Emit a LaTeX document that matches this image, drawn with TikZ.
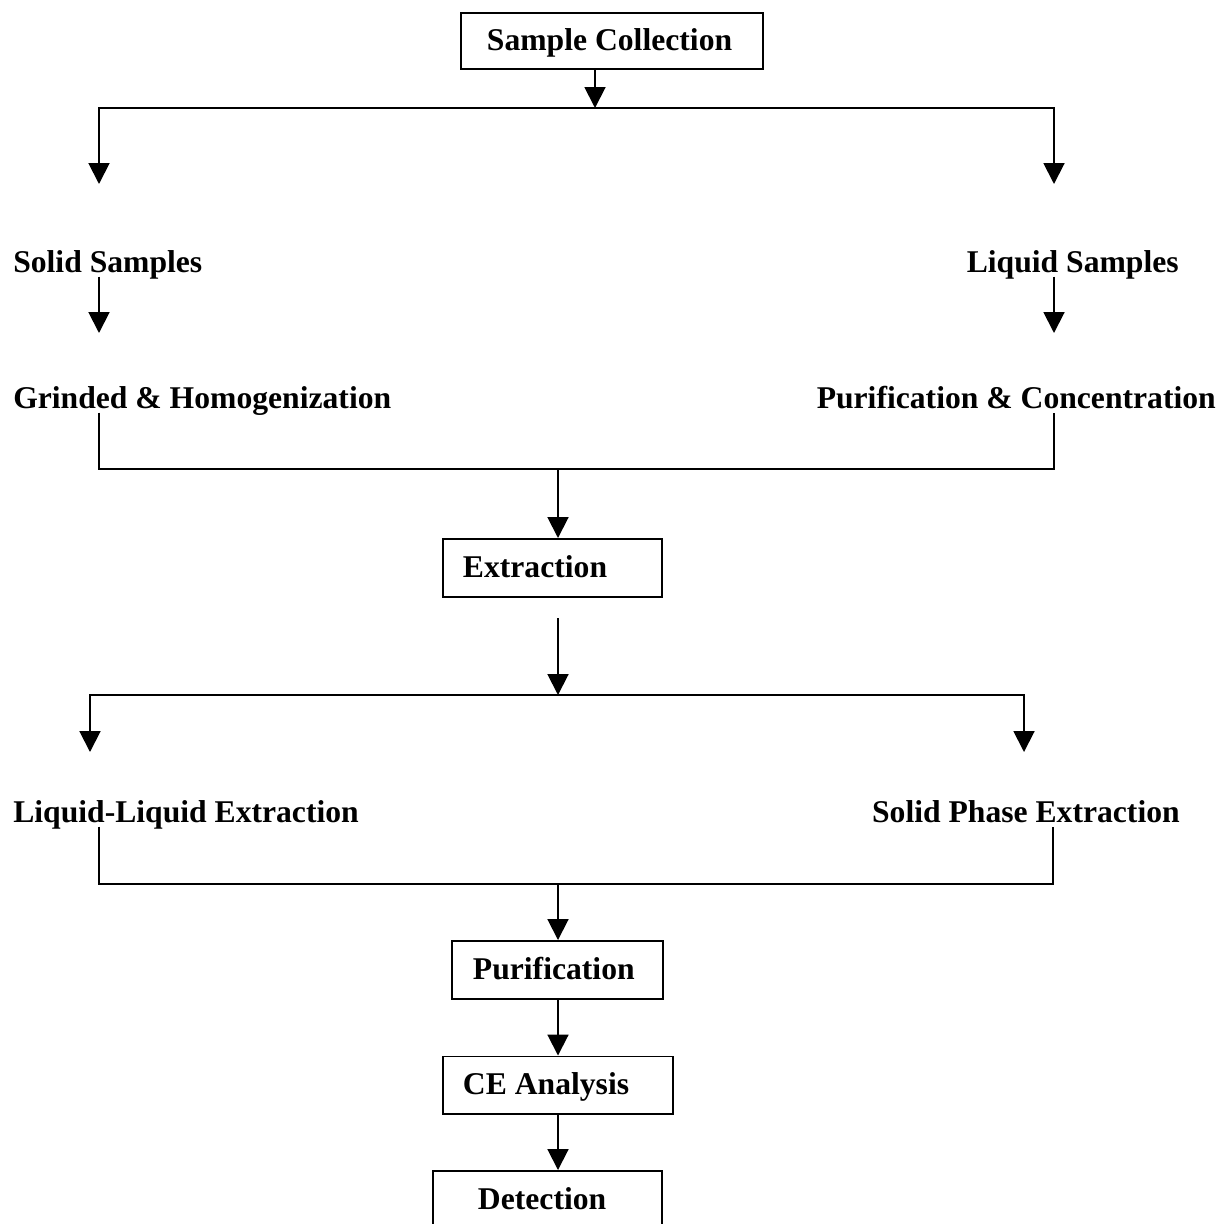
\documentclass[tikz,border=0pt]{standalone}
\usepackage{fontspec}
\setmainfont{Liberation Serif}
\usepackage{tikz}
\usetikzlibrary{arrows.meta}

\begin{document}
\begin{tikzpicture}[
    x=0.025cm, y=-0.025cm,
    every node/.style={font=\fontsize{22.5pt}{27pt}\selectfont\bfseries},
    stepbox/.style={rectangle, draw, line width=1.4pt, inner ysep=0pt, text height=16pt, text depth=2pt, align=left, execute at begin node={\spaceskip=0pt\xspaceskip=0pt\relax}},
    lbl/.style={inner sep=0pt, text depth=3pt},
    arrow/.style={line width=1.4pt, -{Triangle[length=0.52cm, width=0.52cm]}},
    line/.style={line width=1.4pt}
]
\clip (0,0) rectangle (1221,1224);

% Boxes down the middle
\node[stepbox, minimum height=1.4cm, inner xsep=0.65cm, text width=6.25cm] (sample) at (612,41) {Sample Collection};
\node[stepbox, minimum height=1.45cm, inner xsep=0.5cm, text width=4.475cm] (extraction) at (552.5,568) {Extraction};
\node[stepbox, minimum height=1.45cm, inner xsep=0.525cm, text width=4.225cm] (purification) at (557.5,970) {Purification};
\node[stepbox, minimum height=1.425cm, inner xsep=0.5cm, text width=4.75cm] (ce_analysis) at (558,1085) {CE Analysis};
\node[stepbox, minimum height=1.45cm, inner xsep=1.125cm, text width=3.475cm] (detection) at (547.5,1200) {Detection};

% Side labels
\node[lbl, anchor=base west] (solid_samples) at (13,272) {Solid Samples};
\node[lbl, anchor=base east] (liquid_samples) at (1179,272) {Liquid Samples};
\node[lbl, anchor=base west] (grinded) at (13,408) {Grinded \& Homogenization};
\node[lbl, anchor=base east] (purif_conc) at (1216,408) {Purification \& Concentration};
\node[lbl, anchor=base west] (lle) at (13,822) {Liquid-Liquid Extraction};
\node[lbl, anchor=base east] (spe) at (1180,822) {Solid Phase Extraction};

% Junction points
\coordinate (top_bus) at (595,108);
\coordinate (solid_in) at (99,184);
\coordinate (liquid_in) at (1054,184);
\coordinate (grind_in) at (99,333);
\coordinate (conc_in) at (1054,333);
\coordinate (mid_bus) at (558,469);
\coordinate (ext_out) at (558,618);
\coordinate (low_bus) at (558,695);
\coordinate (lle_in) at (90,752);
\coordinate (spe_in) at (1024,752);
\coordinate (lle_out) at (99,884);
\coordinate (spe_out) at (1053,884);
\coordinate (end_bus) at (558,884);

% Sample split
\draw[arrow] (top_bus |- sample.south) -- (top_bus);
\draw[arrow] (top_bus) -| (solid_in);
\draw[arrow] (top_bus) -| (liquid_in);
\draw[arrow] (solid_in |- solid_samples.south) -- (grind_in);
\draw[arrow] (liquid_in |- liquid_samples.south) -- (conc_in);

% Merge into extraction
\draw[line] (grind_in |- grinded.south) |- (mid_bus) -| (conc_in |- purif_conc.south);
\draw[arrow] (mid_bus) -- (mid_bus |- extraction.north);
\draw[arrow] (ext_out) -- (low_bus);
\draw[arrow] (low_bus) -| (lle_in);
\draw[arrow] (low_bus) -| (spe_in);

% Merge into purification and analysis
\draw[line] (lle_out |- lle.south) |- (end_bus) -| (spe_out |- spe.south);
\draw[arrow] (end_bus) -- (end_bus |- purification.north);
\draw[arrow] (end_bus |- purification.south) -- (end_bus |- ce_analysis.north);
\draw[arrow] (end_bus |- ce_analysis.south) -- (end_bus |- detection.north);

\end{tikzpicture}
\end{document}
